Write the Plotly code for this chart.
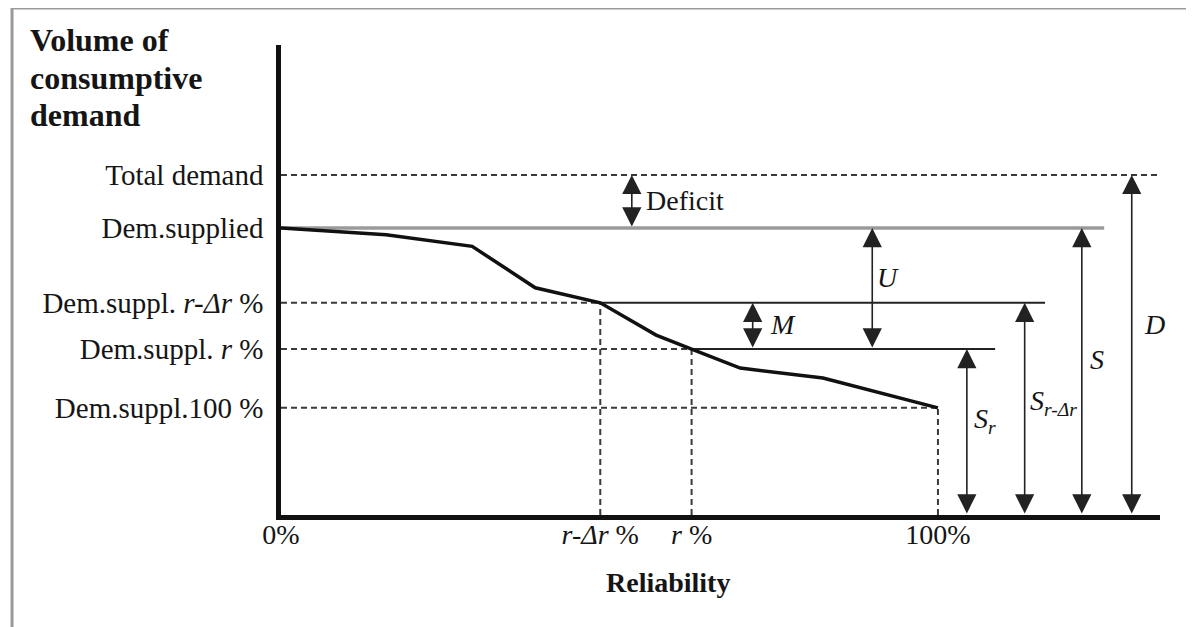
import plotly.graph_objects as go

# ---------------- data ----------------
level_names = ["Total demand", "Dem.supplied", "Dem.suppl. <i>r-Δr</i> %",
               "Dem.suppl. <i>r</i> %", "Dem.suppl.100 %"]
level_values = [100.0, 84.4, 62.4, 48.8, 31.5]

rel_ticks = [0.0, 48.6, 62.5, 100.0]
rel_labels = ["0%", "<i>r-Δr</i> %", "<i>r</i> %", "100%"]

curve_rel = [0.0, 16.0, 29.1, 38.7, 48.6, 57.1, 62.5, 69.9, 82.5, 100.0]
curve_vol = [84.4, 82.4, 79.0, 66.8, 62.4, 52.9, 48.8, 43.2, 40.3, 31.5]

# horizontal extent (reliability units) of each level line
level_ends = [133.5, 125.3, 116.3, 108.7, 100.0]

# dimension arrows: name, x position, bottom level, top level
arrow_names = ["Deficit", "M", "U", "Sr", "Sr-Δr", "S", "D"]
arrow_x = [53.4, 71.8, 90.0, 104.4, 113.2, 121.9, 129.5]
arrow_low = [84.4, 48.8, 48.8, 0.0, 0.0, 0.0, 0.0]
arrow_high = [100.0, 62.4, 84.4, 48.8, 62.4, 84.4, 100.0]
arrow_text = ["Deficit", "<i>M</i>", "<i>U</i>", "<i>S<sub>r</sub></i>",
              "<i>S<sub>r-Δr</sub></i>", "<i>S</i>", "<i>D</i>"]
text_x = [55.3, 76.4, 92.4, 107.2, 117.6, 124.2, 133.0]
text_y = [92.6, 55.9, 69.7, 27.9, 33.0, 45.6, 55.9]

FONT = "Liberation Serif"
INK = "#151515"
DASH = "6px,4px"

fig = go.Figure()

# total demand (dashed)
fig.add_trace(go.Scatter(x=[0, level_ends[0]], y=[level_values[0]] * 2, mode="lines",
                         line=dict(color="#3a3a3a", width=2, dash=DASH), hoverinfo="skip"))
# demand supplied (gray solid)
fig.add_trace(go.Scatter(x=[0, level_ends[1]], y=[level_values[1]] * 2, mode="lines",
                         line=dict(color="#9a9a9a", width=3.5), hoverinfo="skip"))
# r-dr, r, 100%: dashed to the curve, solid beyond, vertical dashed down to axis
for i, xr in zip([2, 3, 4], [rel_ticks[1], rel_ticks[2], rel_ticks[3]]):
    v = level_values[i]
    fig.add_trace(go.Scatter(x=[0, xr], y=[v, v], mode="lines",
                             line=dict(color="#3a3a3a", width=2, dash=DASH), hoverinfo="skip"))
    fig.add_trace(go.Scatter(x=[xr, xr], y=[0, v], mode="lines",
                             line=dict(color="#3a3a3a", width=2, dash=DASH), hoverinfo="skip"))
    if level_ends[i] > xr:
        fig.add_trace(go.Scatter(x=[xr, level_ends[i]], y=[v, v], mode="lines",
                                 line=dict(color="#222", width=2), hoverinfo="skip"))

# supply curve
fig.add_trace(go.Scatter(x=curve_rel, y=curve_vol, mode="lines",
                         line=dict(color="#111", width=3.5), hoverinfo="skip"))

annotations = []
for name, xa, lo, hi, t, tx, ty in zip(arrow_names, arrow_x, arrow_low, arrow_high,
                                       arrow_text, text_x, text_y):
    annotations.append(dict(x=xa, y=hi, ax=xa, ay=lo, xref="x", yref="y", axref="x", ayref="y",
                            text="", showarrow=True, arrowhead=2, startarrowhead=2,
                            arrowside="end+start", arrowsize=2.4, startarrowsize=2.4,
                            arrowwidth=1.6, arrowcolor="#222", standoff=0, startstandoff=0))
    annotations.append(dict(x=tx, y=ty, xref="x", yref="y", text=t, showarrow=False,
                            xanchor="left" if name == "Deficit" else "center",
                            font=dict(family=FONT, size=28, color=INK)))

# y-axis title (three bold lines, top-left)
for line, py in zip(["Volume of", "consumptive", "demand"], [1.0106, 0.9298, 0.851]):
    annotations.append(dict(x=-0.2878, y=py, xref="paper", yref="paper", text="<b>" + line + "</b>",
                            showarrow=False, xanchor="left", yanchor="middle",
                            font=dict(family=FONT, size=32, color=INK)))
# x-axis title
annotations.append(dict(x=0.4403, y=-0.1426, xref="paper", yref="paper", text="<b>Reliability</b>",
                        showarrow=False, xanchor="center", yanchor="middle",
                        font=dict(family=FONT, size=28, color=INK)))

# frame (left and top borders)
shapes = [
    dict(type="line", xref="paper", yref="paper", x0=-0.306, x1=-0.306, y0=-0.3, y1=1.0787,
         line=dict(color="#9a9a9a", width=3)),
    dict(type="line", xref="paper", yref="paper", x0=-0.306, x1=1.05, y0=1.0787, y1=1.0787,
         line=dict(color="#9a9a9a", width=3)),
]

# page body has an 8px margin, so the figure is 8px smaller and placed accordingly
fig.update_layout(
    width=1186, height=619,
    margin=dict(l=273, r=34, t=37, b=112),
    paper_bgcolor="white", plot_bgcolor="white",
    showlegend=False,
    annotations=annotations, shapes=shapes,
    xaxis=dict(range=[0, 133.8], showgrid=False, zeroline=False, showline=True,
               linecolor="#111", linewidth=4.5, tickvals=rel_ticks, ticktext=rel_labels,
               ticks="", ticklabelstandoff=-9,
               tickfont=dict(family=FONT, size=28, color=INK), fixedrange=True),
    yaxis=dict(range=[0, 138.2], showgrid=False, zeroline=False, showline=True,
               linecolor="#111", linewidth=4.5, tickvals=level_values, ticktext=level_names,
               ticks="", ticklabelstandoff=7,
               tickfont=dict(family=FONT, size=29, color=INK), fixedrange=True),
)

fig.write_html("out.html")
